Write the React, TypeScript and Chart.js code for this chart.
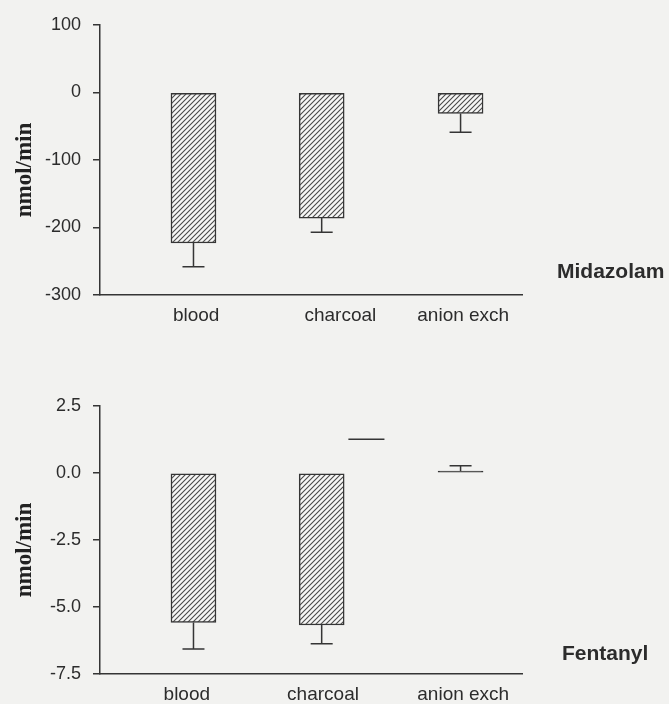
import React, { useEffect, useRef } from "react";
import { Chart, registerables } from "chart.js";

Chart.register(...registerables);

const categories = ["blood", "charcoal", "anion exch"];
// bar centres along the x axis, in category units
const barPositions = [0, 0.96, 2];

const midazolamMeans = [-223, -186, -31];
const midazolamErrors = [35, 21, 28];
const midazolamTicks = [100, 0, -100, -200, -300];
const midazolamLabelPositions = [0.02, 1.1, 2.02];

const fentanylMeans = [-5.58, -5.67, 0.02];
const fentanylErrors = [0.99, 0.7, 0.25];
const fentanylTicks = [2.5, 0, -2.5, -5, -7.5];
const fentanylLabelPositions = [-0.05, 0.97, 2.02];
const fentanylStrayX = [1.16, 1.43];
const fentanylStrayY = [1.26, 1.26];

const INK = "#353535";
const TEXT = "#2c2c2c";
const BG = "#f2f2f0";

function makeHatch(): CanvasPattern | string {
  const size = 5;
  const c = document.createElement("canvas");
  c.width = size;
  c.height = size;
  const g = c.getContext("2d");
  if (!g) return "#ddd";
  g.fillStyle = "#f7f7f6";
  g.fillRect(0, 0, size, size);
  g.strokeStyle = "#4a4a4a";
  g.lineWidth = 1.1;
  g.beginPath();
  g.moveTo(-1, size + 1);
  g.lineTo(size + 1, -1);
  g.moveTo(-1, 1);
  g.lineTo(1, -1);
  g.moveTo(size - 1, size + 1);
  g.lineTo(size + 1, size - 1);
  g.stroke();
  const p = g.createPattern(c, "repeat");
  return p || "#ddd";
}

type PanelProps = {
  means: number[];
  errors: number[];
  ticks: number[];
  labelPositions: number[];
  decimals: number;
  stray?: { x: number[]; y: number[] };
  width: number;
  height: number;
  padTop: number;
  padBottom: number;
  top: number;
};

function Panel(props: PanelProps) {
  const ref = useRef<HTMLCanvasElement | null>(null);
  useEffect(() => {
    const canvas = ref.current;
    if (!canvas) return;
    const { means, errors, ticks, decimals, stray, labelPositions } = props;
    const hatch = makeHatch();
    const yMin = Math.min(...ticks);
    const yMax = Math.max(...ticks);
    const span = yMax - yMin;

    const errorBars = {
      id: "errorBars",
      afterDatasetsDraw(chart: any) {
        const meta = chart.getDatasetMeta(0);
        const yScale = chart.scales.y;
        const ctx = chart.ctx;
        ctx.save();
        ctx.strokeStyle = INK;
        ctx.lineWidth = 1.5;
        meta.data.forEach((bar: any, i: number) => {
          const v = means[i];
          const sign = v >= 0 ? 1 : -1;
          const yEnd = yScale.getPixelForValue(v + sign * errors[i]);
          const x = bar.x;
          ctx.beginPath();
          ctx.moveTo(x, bar.y);
          ctx.lineTo(x, yEnd);
          ctx.moveTo(x - 11, yEnd);
          ctx.lineTo(x + 11, yEnd);
          ctx.stroke();
        });
        ctx.restore();
      },
    };

    const yTitle = {
      id: "yTitle",
      afterDraw(chart: any) {
        const ctx = chart.ctx;
        const area = chart.chartArea;
        ctx.save();
        ctx.translate(25, (area.top + area.bottom) / 2 + 10);
        ctx.rotate(-Math.PI / 2);
        ctx.fillStyle = "#222";
        ctx.font = "bold 23px 'Liberation Serif', 'Times New Roman', serif";
        ctx.textAlign = "center";
        ctx.textBaseline = "middle";
        ctx.fillText("nmol/min", 0, 0);
        ctx.restore();
      },
    };

    const datasets: any[] = [
      {
        type: "bar",
        data: means.map((v, i) => ({ x: barPositions[i], y: v })),
        backgroundColor: means.map((v) => (Math.abs(v) < span * 0.01 ? INK : hatch)),
        borderColor: INK,
        borderWidth: 1.5,
        borderSkipped: false,
        barThickness: 45,
        minBarLength: 2,
      },
    ];
    if (stray) {
      datasets.push({
        type: "line",
        data: stray.x.map((x, i) => ({ x, y: stray.y[i] })),
        borderColor: INK,
        borderWidth: 1.5,
        pointRadius: 0,
        fill: false,
      });
    }

    const chart = new Chart(canvas, {
      type: "bar",
      data: { datasets },
      plugins: [errorBars, yTitle],
      options: {
        animation: false,
        responsive: false,
        events: [],
        layout: {
          padding: { left: 0, right: 147, top: props.padTop, bottom: props.padBottom },
        },
        plugins: {
          legend: { display: false },
          tooltip: { enabled: false },
        },
        scales: {
          x: {
            type: "linear",
            min: -0.7,
            max: 2.46,
            offset: false,
            grid: { display: false, drawTicks: false },
            border: { display: true, color: INK, width: 1.5 },
            afterFit: (s: any) => {
              s.height = 28;
            },
            afterBuildTicks: (s: any) => {
              s.ticks = labelPositions.map((p) => ({ value: p }));
            },
            ticks: {
              padding: 9,
              color: TEXT,
              font: { family: "'Liberation Sans', Arial, sans-serif", size: 19 },
              maxRotation: 0,
              autoSkip: false,
              callback: (_v: any, i: number) => categories[i] ?? "",
            },
          },
          y: {
            type: "linear",
            min: yMin,
            max: yMax,
            grid: {
              drawOnChartArea: false,
              drawTicks: true,
              tickLength: 7,
              color: INK,
              lineWidth: 1.5,
            },
            border: { display: true, color: INK, width: 1.5 },
            afterFit: (s: any) => {
              s.width = 100;
            },
            afterBuildTicks: (s: any) => {
              s.ticks = ticks.map((v) => ({ value: v }));
            },
            ticks: {
              padding: 12,
              color: TEXT,
              font: { family: "'Liberation Sans', Arial, sans-serif", size: 18 },
              callback: (v: any) => Number(v).toFixed(decimals),
            },
          },
        },
      } as any,
    });
    return () => chart.destroy();
  }, []);
  return (
    <canvas
      ref={ref}
      width={props.width}
      height={props.height}
      style={{ position: "absolute", left: 0, top: props.top, width: props.width, height: props.height }}
    />
  );
}

const labelStyle: React.CSSProperties = {
  position: "absolute",
  fontFamily: "'Liberation Sans', Arial, sans-serif",
  fontWeight: "bold",
  fontSize: 21,
  lineHeight: "24px",
  color: TEXT,
  whiteSpace: "nowrap",
};

export default function App() {
  return (
    <div
      style={{
        position: "absolute",
        left: 0,
        top: 0,
        width: 669,
        height: 704,
        background: BG,
        overflow: "hidden",
      }}
    >
      <Panel
        means={midazolamMeans}
        errors={midazolamErrors}
        ticks={midazolamTicks}
        labelPositions={midazolamLabelPositions}
        decimals={0}
        width={669}
        height={340}
        padTop={25}
        padBottom={17}
        top={0}
      />
      <Panel
        means={fentanylMeans}
        errors={fentanylErrors}
        ticks={fentanylTicks}
        labelPositions={fentanylLabelPositions}
        decimals={1}
        stray={{ x: fentanylStrayX, y: fentanylStrayY }}
        width={669}
        height={364}
        padTop={66}
        padBottom={2}
        top={340}
      />
      <div style={{ ...labelStyle, left: 557, top: 259 }}>Midazolam</div>
      <div style={{ ...labelStyle, left: 562, top: 641 }}>Fentanyl</div>
    </div>
  );
}
